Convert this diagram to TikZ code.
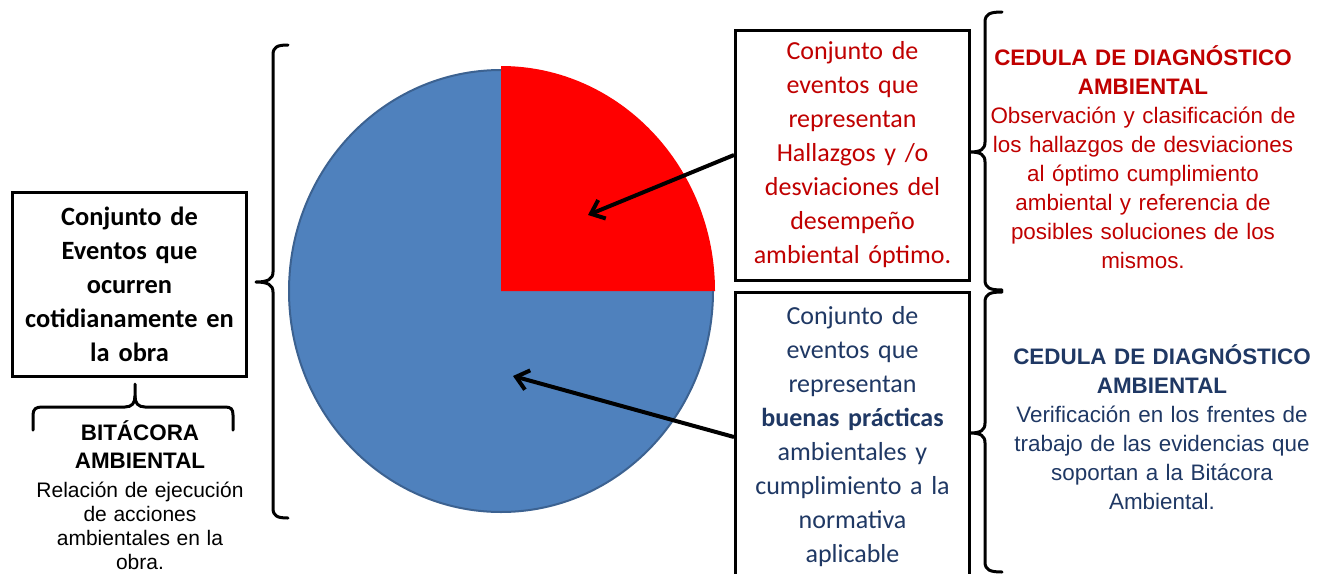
\documentclass[tikz,border=0pt]{standalone}
\usepackage{fontspec}
\setmainfont{Liberation Sans}
\newfontfamily\calfont{Carlito}
\usetikzlibrary{arrows.meta}
\definecolor{redtxt}{RGB}{192,0,0}
\definecolor{bluetxt}{RGB}{31,56,100}
\definecolor{pieblue}{RGB}{79,129,189}
\definecolor{pieedge}{RGB}{60,98,145}
\definecolor{piered}{RGB}{255,0,0}
\begin{document}
\begin{tikzpicture}[x=0.5pt,y=-0.5pt,
  box/.style={draw=black, line width=1.5pt, align=center, inner sep=0pt},
  calbox/.style={font=\calfont\fontsize{13}{17}\selectfont},
  bracepath/.style={draw=black, line width=1.5pt, line cap=round, line join=round},
  pointer/.style={draw=black, line width=2pt, -{Straight Barb[length=6pt,width=10pt,line width=2pt]}},
  ariatext/.style={align=center, inner sep=0pt, anchor=base}]
\useasboundingbox (0,0) rectangle (1331,573);
\fill[white] (0,0) rectangle (1331,573);

% pie
\begin{scope}[shift={(501,291)}, y=0.5pt]
  \fill[pieblue] (0,0) -- (0,221) arc[start angle=90, end angle=360, x radius=212, y radius=221] -- cycle;
  \fill[piered] (0,0) -- (214,0) arc[start angle=0, end angle=90, x radius=214, y radius=225] -- cycle;
  \draw[pieedge, line width=1pt] (0,221) arc[start angle=90, end angle=360, x radius=212, y radius=221];
\end{scope}

% left box
\node[box, minimum width=117pt, minimum height=92pt, text width=114pt,
      font=\calfont\bfseries\fontsize{13.2}{17}\selectfont] (lbox) at (129.5,284.5)
  {Conjunto de\\ Eventos que\\ ocurren\\ cotidianamente en\\ la obra};

% bitacora brace
\draw[bracepath] (33,430) -- (33,415) .. controls (33,409) and (36,407) .. (42,407) -- (125,407)
  .. controls (132,407) and (135,403) .. (135,396) -- (135,384);
\draw[bracepath] (135,396) .. controls (135,403) and (138,407) .. (145,407) -- (225,407)
  .. controls (231,407) and (233,409) .. (233,415) -- (233,430);

\node[ariatext, text width=120pt] (bit) at (140,440)
  {{\bfseries\fontsize{11.2}{14}\selectfont BITÁCORA\\ AMBIENTAL\par}\vspace{2.5pt}
   {\fontsize{10.5}{12}\selectfont Relación de ejecución\\ de acciones\\ ambientales en la\\ obra.\par}};

% big left brace
\draw[bracepath] (288,45) .. controls (277,45) and (273,47) .. (273,55) -- (273,272)
  .. controls (273,279) and (268,282) .. (256,282)
  .. controls (268,282) and (273,285) .. (273,292) -- (273,508)
  .. controls (273,516) and (277,518) .. (288,518);

% middle boxes
\node[box, calbox, text=redtxt, minimum width=117pt, minimum height=125pt, text width=114pt] (rbox) at (852.5,155)
  {Conjunto de\\ eventos que\\ representan\\ Hallazgos y /o\\ desviaciones del\\ desempeño\\ ambiental óptimo.};
\node[box, calbox, text=bluetxt, minimum width=117pt, minimum height=145pt, text width=114pt] (bbox) at (852.5,437)
  {Conjunto de\\ eventos que\\ representan\\ \textbf{buenas prácticas}\\ ambientales y\\ cumplimiento a la\\ normativa\\ aplicable};

% arrows
\coordinate (ta) at (588,215);
\coordinate (tb) at (513,376);
\draw[pointer] (rbox.west) -- (ta);
\draw[pointer] (bbox.west) -- (tb);

% right braces
\draw[bracepath] (1002,12) .. controls (990,12) and (985,14) .. (985,22) -- (985,142)
  .. controls (985,149) and (981,152) .. (970,152)
  .. controls (981,152) and (985,155) .. (985,162) -- (985,280)
  .. controls (985,288) and (990,290) .. (1002,290);
\draw[bracepath] (1002,292) .. controls (990,292) and (985,294) .. (985,302) -- (985,423)
  .. controls (985,430) and (981,433) .. (970,433)
  .. controls (981,433) and (985,436) .. (985,443) -- (985,562)
  .. controls (985,570) and (990,572) .. (1002,572);

% right texts
\node[ariatext, text width=168pt, text=redtxt, font=\fontsize{11.2}{14.5}\selectfont] (rtxt) at (1143,65)
  {\textbf{CEDULA DE DIAGNÓSTICO}\\ \textbf{AMBIENTAL}\\ Observación y clasificación de\\ los hallazgos de desviaciones\\ al óptimo cumplimiento\\ ambiental y referencia de\\ posibles soluciones de los\\ mismos.};
\node[ariatext, text width=164pt, text=bluetxt, font=\fontsize{11.2}{14.5}\selectfont] (btxt) at (1162,364)
  {\textbf{CEDULA DE DIAGNÓSTICO}\\ \textbf{AMBIENTAL}\\ Verificación en los frentes de\\ trabajo de las evidencias que\\ soportan a la Bitácora\\ Ambiental.};
\end{tikzpicture}
\end{document}
